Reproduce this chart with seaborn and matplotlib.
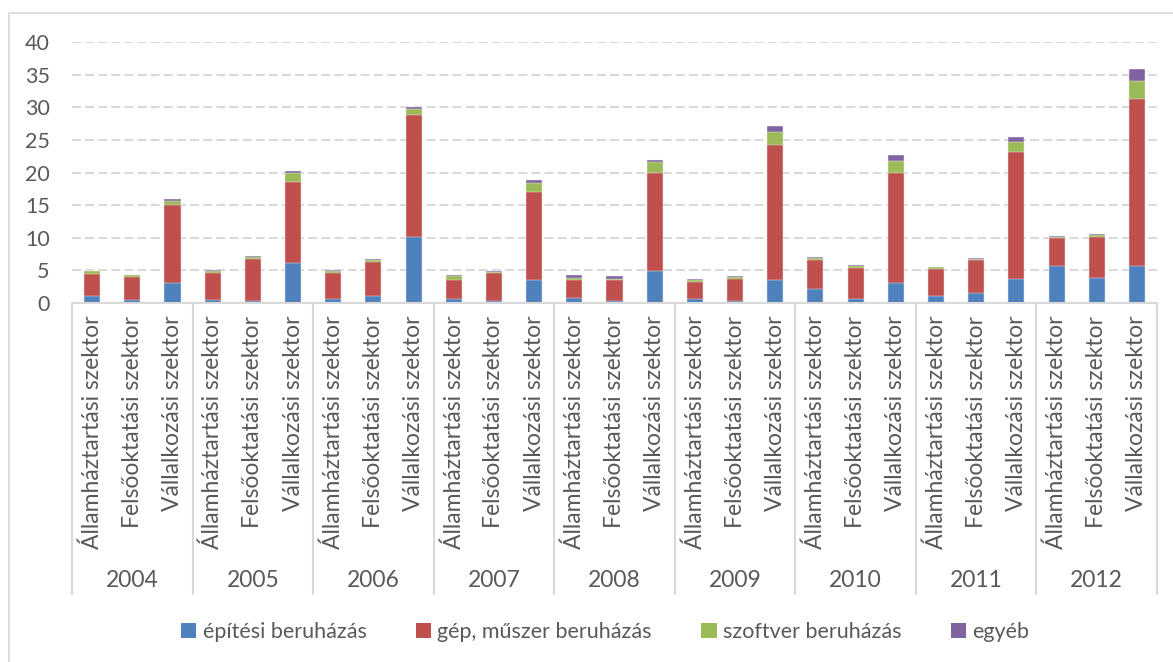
import pandas as pd
import seaborn as sns
import matplotlib
matplotlib.use("Agg")
from matplotlib import pyplot as plt
from matplotlib.patches import Rectangle, Patch
from matplotlib.transforms import blended_transform_factory

years = ["2004", "2005", "2006", "2007", "2008", "2009", "2010", "2011", "2012"]
sectors = ["Államháztartási szektor", "Felsőoktatási szektor", "Vállalkozási szektor"]

# one value per bar, order: year by year, sectors inside
epitesi = [1.0, 0.45, 3.1, 0.4, 0.3, 6.1, 0.6, 1.1, 10.1,
           0.6, 0.25, 3.5, 0.7, 0.3, 4.9, 0.6, 0.3, 3.5,
           2.15, 0.6, 3.0, 1.1, 1.5, 3.7, 5.7, 3.85, 5.7]
gep = [3.4, 3.6, 11.9, 4.15, 6.5, 12.4, 3.95, 5.15, 18.7,
       3.0, 4.35, 13.6, 2.9, 3.3, 15.1, 2.6, 3.4, 20.7,
       4.5, 4.8, 17.0, 4.05, 5.15, 19.4, 4.2, 6.2, 25.6]
szoftver = [0.5, 0.2, 0.7, 0.3, 0.3, 1.5, 0.3, 0.3, 0.95,
            0.5, 0.2, 1.3, 0.3, 0.1, 1.6, 0.35, 0.3, 2.1,
            0.25, 0.3, 1.8, 0.3, 0.1, 1.6, 0.3, 0.35, 2.7]
egyeb = [0.05, 0.1, 0.3, 0.2, 0.05, 0.25, 0.2, 0.15, 0.35,
         0.15, 0.15, 0.5, 0.35, 0.5, 0.3, 0.1, 0.2, 0.9,
         0.15, 0.1, 0.95, 0.05, 0.15, 0.8, 0.15, 0.15, 1.85]

series_names = ["építési beruházás", "gép, műszer beruházás", "szoftver beruházás", "egyéb"]
colors = ["#4F81BD", "#C0504D", "#9BBB59", "#8064A2"]

rows = []
i = 0
for y in years:
    for s in sectors:
        rows.append({"key": f"{y}|{s}", "year": y, "sector": s,
                     "epitesi": epitesi[i], "gep": gep[i],
                     "szoftver": szoftver[i], "egyeb": egyeb[i]})
        i += 1
df = pd.DataFrame(rows)
# cumulative tops for stacking
df["c1"] = df["epitesi"]
df["c2"] = df["c1"] + df["gep"]
df["c3"] = df["c2"] + df["szoftver"]
df["c4"] = df["c3"] + df["egyeb"]

sns.set_style("white")
plt.rcParams["font.family"] = ["Lato", "DejaVu Sans"]
txt = "#595959"
grid_c = "#D9D9D9"

fig = plt.figure(figsize=(11.73, 6.62), dpi=100)
ax = fig.add_axes([72 / 1173, 1 - 303 / 662, (1157 - 72) / 1173, (303 - 42.3) / 662])

order = list(df["key"])
# draw from the top of the stack downwards so each segment shows
for col, c in zip(["c4", "c3", "c2", "c1"], colors[::-1]):
    sns.barplot(data=df, x="key", y=col, order=order, color=c, width=0.4,
                saturation=1, edgecolor="#F2F2F2", linewidth=0.3, ax=ax, zorder=3)

ax.set_ylim(0, 40)
ax.set_xlim(-0.5, len(order) - 0.5)
ax.set_yticks(range(0, 41, 5))
ax.yaxis.grid(True, color=grid_c, linestyle=(0, (4.3, 2)), linewidth=1.5, zorder=0)
ax.set_axisbelow(True)
for sp in ["left", "top", "right"]:
    ax.spines[sp].set_visible(False)
ax.spines["bottom"].set_color(grid_c)
ax.spines["bottom"].set_linewidth(1.5)
ax.spines["bottom"].set_zorder(4)
ax.set_xlabel("")
ax.set_ylabel("")

ax.set_xticks(range(len(order)))
ax.set_xticklabels(list(df["sector"]), rotation=90, fontsize=16.5, color=txt)
ax.tick_params(axis="x", length=0, pad=9)
ax.tick_params(axis="y", length=0, pad=16, labelsize=15.5, labelcolor=txt)

# year group separators and labels
trans = blended_transform_factory(ax.transData, ax.transAxes)
for k in range(len(years) + 1):
    ax.plot([k * 3 - 0.5, k * 3 - 0.5], [0, -1.115], transform=trans,
            color=grid_c, linewidth=1.5, clip_on=False)
for k, y in enumerate(years):
    ax.text(k * 3 + 1, -1.065, y, transform=trans, ha="center", va="center",
            fontsize=16.5, color=txt)

handles = [Patch(facecolor=c, edgecolor="none") for c in colors]
fig.legend(handles, series_names, loc="center", bbox_to_anchor=(0.516, 1 - 632 / 662),
           ncol=4, frameon=False, fontsize=15.5, labelcolor=txt,
           handlelength=0.7, handleheight=0.7, handletextpad=0.3, columnspacing=2.3)

# outer chart border
fig.patches.append(Rectangle((8.5 / 1173, -0.01), 1.02, 1 - 13 / 662 + 0.01,
                             transform=fig.transFigure, fill=False,
                             edgecolor=grid_c, linewidth=1.2))

fig.savefig("out.png", dpi=100)
